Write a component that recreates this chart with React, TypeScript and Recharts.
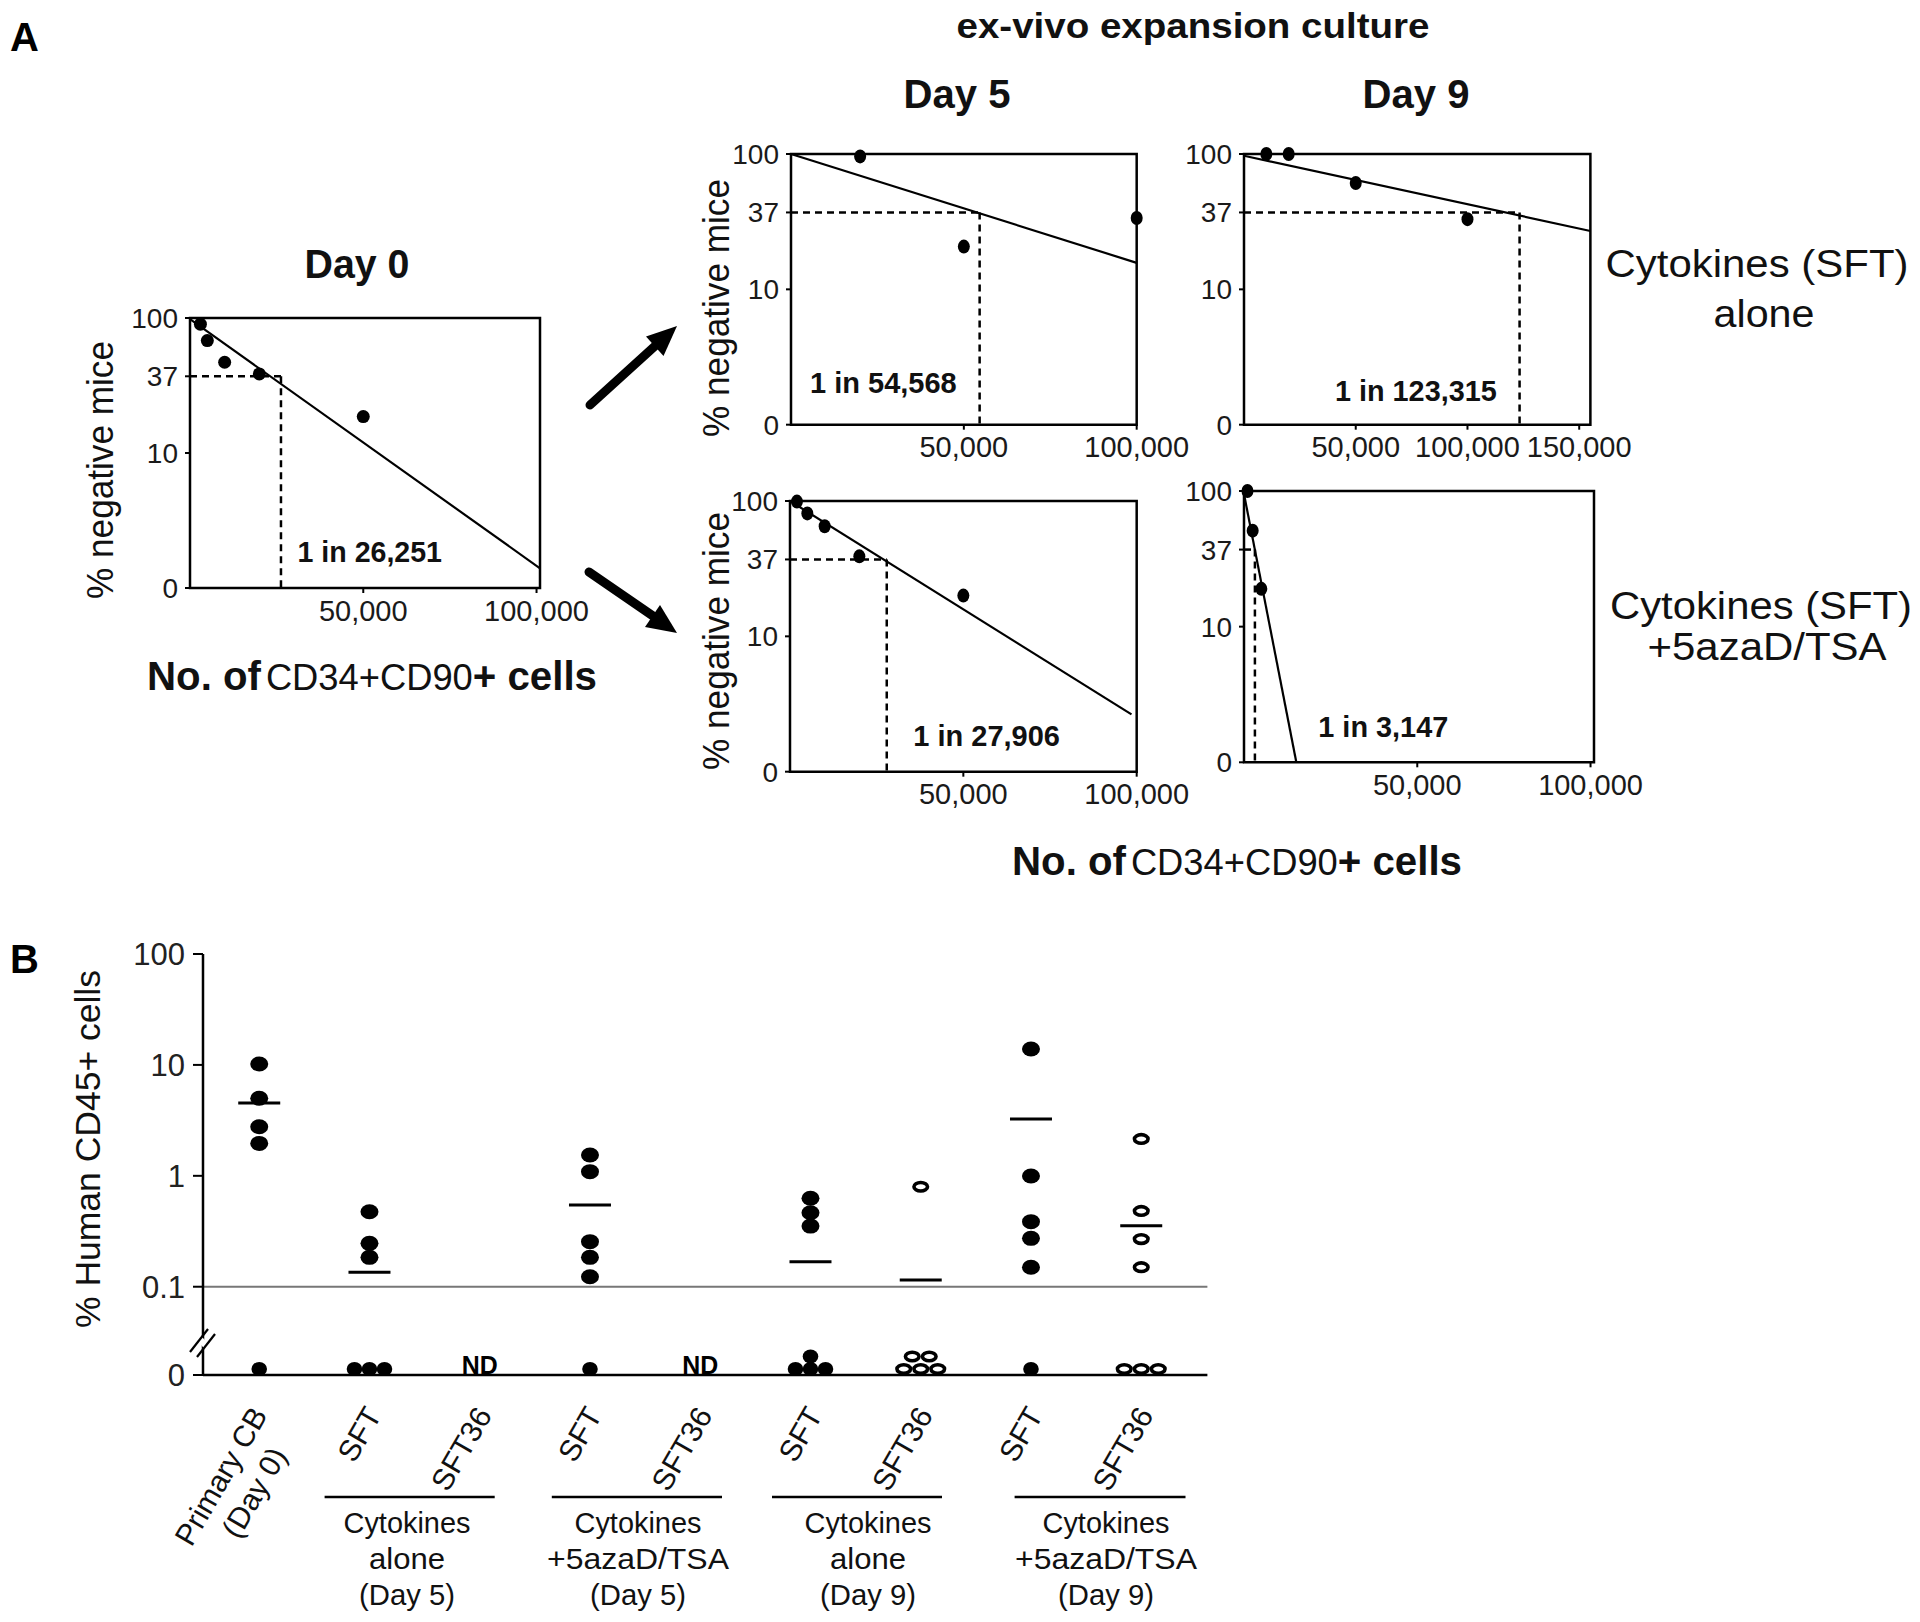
import React from 'react';
import { ComposedChart, Scatter, XAxis, YAxis, ReferenceLine, ReferenceArea } from 'recharts';

const FONT = '"Liberation Sans", Arial, Helvetica, sans-serif';

// ---------------- Panel A data ----------------
const yTicksA = [1, 10, 37, 100];

const day0CellsX = [3000, 5000, 10000, 20000, 50000];
const day0NegY = [90, 68, 47, 38.5, 18.6];
const day0FitX = [0, 101000];
const day0FitY = [98, 1.4];
const day0Freq = 26251;

const d5AloneX = [20000, 50000, 100000];
const d5AloneY = [96, 20.7, 33.7];
const d5AloneFitX = [0, 100000];
const d5AloneFitY = [100, 15.7];
const d5AloneFreq = 54568;

const d9AloneX = [10000, 20000, 50000, 100000];
const d9AloneY = [100, 100, 61, 33];
const d9AloneFitX = [0, 155000];
const d9AloneFitY = [97, 27];
const d9AloneFreq = 123315;

const d5AzaX = [2000, 5000, 10000, 20000, 50000];
const d5AzaY = [99, 81, 65, 39, 20];
const d5AzaFitX = [0, 98500];
const d5AzaFitY = [100, 2.65];
const d5AzaFreq = 27906;

const d9AzaX = [1000, 2500, 5000];
const d9AzaY = [100, 51, 19];
const d9AzaFitX = [0, 15100];
const d9AzaFitY = [95, 1];
const d9AzaFreq = 3147;

// ---------------- Panel B data ----------------
const ZERO_POS = 0.016; // where "0" sits on the broken log axis
const bYTicks = [ZERO_POS, 0.1, 1, 10, 100];
const bCatLabels: string[][] = [
  ['Primary CB', '(Day 0)'],
  ['SFT'], ['SFT36'], ['SFT'], ['SFT36'], ['SFT'], ['SFT36'], ['SFT'], ['SFT36'],
];
const bOpenMarker = [false, false, false, false, false, false, true, false, true];
const bValues: number[][] = [
  [10.2, 5.0, 2.77, 1.96],
  [0.474, 0.246, 0.184],
  [],
  [1.54, 1.09, 0.255, 0.184, 0.123],
  [],
  [0.627, 0.464, 0.352],
  [0.797],
  [13.9, 0.996, 0.386, 0.273, 0.15],
  [2.15, 0.482, 0.269, 0.15],
];
const bZeroCount = [1, 3, 0, 1, 0, 4, 5, 1, 3];
const bMeans: (number | null)[] = [4.53, 0.135, null, 0.545, null, 0.168, 0.115, 3.25, 0.355];
const bNotDone = [false, false, true, false, true, false, false, false, false];
const bGroups = [
  ['Cytokines', 'alone', '(Day 5)'],
  ['Cytokines', '+5azaD/TSA', '(Day 5)'],
  ['Cytokines', 'alone', '(Day 9)'],
  ['Cytokines', '+5azaD/TSA', '(Day 9)'],
];

// ---------------- layout ----------------
type Box = { l: number; r: number; t: number; b: number };
const YW = 80, XH = 60, MT = 20, MR = 70;
const BOX_D0: Box = { l: 190.4, r: 540.4, t: 318.3, b: 588.3 };
const BOX_D5S: Box = { l: 791, r: 1136.7, t: 154.3, b: 425 };
const BOX_D9S: Box = { l: 1244.3, r: 1590.7, t: 154.3, b: 425 };
const BOX_D5A: Box = { l: 790, r: 1136.7, t: 501, b: 771.7 };
const BOX_D9A: Box = { l: 1244.3, r: 1594.3, t: 491, b: 762.3 };
const BOX_B: Box = { l: 202.6, r: 1207, t: 954, b: 1375 };
const B_XDOMAIN: [number, number] = [-0.51, 8.6];

const fmtCells = (v: number) => v.toLocaleString('en-US');
const fmtNeg = (v: number) => (v === 1 ? '0' : String(v));
const fmtB = (v: number) => (v === ZERO_POS ? '0' : String(v));

const NoShape = () => <g />;
const ellipseDot = (rx: number, ry: number) => (p: any) =>
  <ellipse cx={p.cx} cy={p.cy} rx={rx} ry={ry} fill="#000" />;

type PanelProps = {
  box: Box; xMax: number; xTicks: number[]; xs: number[]; ys: number[];
  fitX: number[]; fitY: number[]; freq: number; rx: number; ry: number;
};

function LdaPanel({ box, xMax, xTicks, xs, ys, fitX, fitY, freq, rx, ry }: PanelProps) {
  const pts = xs.map((x, i) => ({ x, y: ys[i] }));
  const fit = fitX.map((x, i) => ({ x, y: fitY[i] }));
  const w = box.r - box.l + YW + MR;
  const h = box.b - box.t + MT + XH;
  return (
    <div style={{ position: 'absolute', left: box.l - YW, top: box.t - MT }}>
      <ComposedChart width={w} height={h} margin={{ top: MT, right: MR, bottom: 0, left: 0 }}>
        <XAxis type="number" dataKey="x" domain={[0, xMax]} ticks={xTicks} interval={0}
          tickFormatter={fmtCells} height={XH} axisLine={false}
          tickLine={{ stroke: '#000', strokeWidth: 2 }} tickSize={5} tickMargin={7}
          tick={{ fontSize: 29, fill: '#1a1a1a', fontFamily: FONT }} />
        <YAxis type="number" dataKey="y" scale="log" domain={[1, 100]} ticks={yTicksA} interval={0}
          tickFormatter={fmtNeg} width={YW} axisLine={false}
          tickLine={{ stroke: '#000', strokeWidth: 2 }} tickSize={5} tickMargin={7}
          tick={{ fontSize: 28, fill: '#1a1a1a', fontFamily: FONT }} />
        <ReferenceArea x1={0} x2={xMax} y1={1} y2={100} fill="none" fillOpacity={0} stroke="#000" strokeWidth={2.5} />
        <ReferenceLine segment={[{ x: 0, y: 37 }, { x: freq, y: 37 }]} stroke="#000" strokeWidth={2.5} strokeDasharray="7 5" />
        <ReferenceLine segment={[{ x: freq, y: 37 }, { x: freq, y: 1 }]} stroke="#000" strokeWidth={2.5} strokeDasharray="7 5" />
        <Scatter data={fit} line={{ stroke: '#000', strokeWidth: 2.2 }} shape={NoShape} isAnimationActive={false} />
        <Scatter data={pts} shape={ellipseDot(rx, ry)} isAnimationActive={false} />
      </ComposedChart>
    </div>
  );
}

// ---- Panel B shapes ----
const filledDot = (p: any) => <ellipse cx={p.cx} cy={p.cy} rx={9} ry={7.5} fill="#000" />;
const openDot = (p: any) => (
  <ellipse cx={p.cx} cy={p.cy} rx={6.8} ry={4.3} fill="#fff" stroke="#000" strokeWidth={3.6} />
);
const zeroShape = (p: any) => {
  const open = p.payload.open;
  const sp = open ? 17 : 15;
  const cx = p.cx + p.payload.slot * sp;
  const cy = p.cy - 6 - p.payload.row * 12.5;
  return open
    ? <ellipse cx={cx} cy={cy} rx={6.8} ry={4.3} fill="#fff" stroke="#000" strokeWidth={3.6} />
    : <ellipse cx={cx} cy={cy} rx={7.8} ry={7} fill="#000" />;
};
const meanShape = (p: any) => (
  <line x1={p.cx - 21} x2={p.cx + 21} y1={p.cy} y2={p.cy} stroke="#000" strokeWidth={3} />
);
const ndShape = (p: any) => (
  <text x={p.cx} y={p.cy - 1} textAnchor="middle" fontFamily={FONT} fontWeight="bold"
    fontSize={26} textLength={36} lengthAdjust="spacingAndGlyphs" fill="#000">ND</text>
);

const zeroLayout: Record<number, [number, number][]> = {
  1: [[0, 0]],
  3: [[-1, 0], [0, 0], [1, 0]],
  4: [[-1, 0], [0, 0], [1, 0], [0, 1]],
  5: [[-1, 0], [0, 0], [1, 0], [-0.5, 1], [0.5, 1]],
};

function BTick(props: any) {
  const { x, y, payload } = props;
  const lines = bCatLabels[payload.value];
  if (!lines) return null;
  const common = { fontSize: 30, fontFamily: FONT, fill: '#111' };
  if (lines.length === 1) {
    return (
      <text transform={`translate(${x + 13},${y + 40}) rotate(-60)`} textAnchor="end" {...common}>{lines[0]}</text>
    );
  }
  return (
    <g transform={`translate(${x + 9},${y + 40}) rotate(-60)`}>
      <text textAnchor="end" {...common}>{lines[0]}</text>
      <text x={-25} y={37} textAnchor="end" {...common}>{lines[1]}</text>
    </g>
  );
}

function PanelB() {
  const filled: any[] = [];
  const open: any[] = [];
  const zeros: any[] = [];
  const means: any[] = [];
  const nd: any[] = [];
  bValues.forEach((vals, i) => {
    vals.forEach((v) => (bOpenMarker[i] ? open : filled).push({ x: i, y: v }));
    const lay = zeroLayout[bZeroCount[i]] || [];
    lay.forEach(([slot, row]) => zeros.push({ x: i, y: ZERO_POS, slot, row, open: bOpenMarker[i] }));
    if (bMeans[i] != null) means.push({ x: i, y: bMeans[i] });
    if (bNotDone[i]) nd.push({ x: i, y: ZERO_POS });
  });
  const YWB = 110, MTB = 20, MRB = 30, XHB = 200;
  const w = BOX_B.r - BOX_B.l + YWB + MRB;
  const h = BOX_B.b - BOX_B.t + MTB + XHB;
  return (
    <div style={{ position: 'absolute', left: BOX_B.l - YWB, top: BOX_B.t - MTB }}>
      <ComposedChart width={w} height={h} margin={{ top: MTB, right: MRB, bottom: 0, left: 0 }}>
        <XAxis type="number" dataKey="x" domain={B_XDOMAIN} ticks={[0, 1, 2, 3, 4, 5, 6, 7, 8]} interval={0}
          height={XHB} tickLine={false} tickSize={0} tickMargin={0}
          axisLine={{ stroke: '#000', strokeWidth: 2.5 }} tick={(p: any) => <BTick {...p} />} />
        <YAxis type="number" dataKey="y" scale="log" domain={[ZERO_POS, 100]} ticks={bYTicks} interval={0}
          tickFormatter={fmtB} width={YWB} axisLine={{ stroke: '#000', strokeWidth: 2.5 }}
          tickLine={{ stroke: '#000', strokeWidth: 2 }} tickSize={10} tickMargin={8}
          tick={{ fontSize: 31, fill: '#222', fontFamily: FONT }} />
        <ReferenceLine y={0.1} stroke="#777" strokeWidth={2} />
        <Scatter data={filled} shape={filledDot} isAnimationActive={false} />
        <Scatter data={open} shape={openDot} isAnimationActive={false} />
        <Scatter data={zeros} shape={zeroShape} isAnimationActive={false} />
        <Scatter data={means} shape={meanShape} isAnimationActive={false} />
        <Scatter data={nd} shape={ndShape} isAnimationActive={false} />
      </ComposedChart>
    </div>
  );
}

// ---------------- overlay texts & decorations ----------------
const FREQ_LABELS = [
  { f: day0Freq, x: 297.5, y: 562, w: 144.5 },
  { f: d5AloneFreq, x: 810, y: 393, w: 146.7 },
  { f: d9AloneFreq, x: 1335, y: 401, w: 161.7 },
  { f: d5AzaFreq, x: 913.3, y: 746, w: 146.7 },
  { f: d9AzaFreq, x: 1318.3, y: 737, w: 130 },
];
const NEG_LABELS = [
  { cx: 100, cy: 470 },
  { cx: 716, cy: 308 },
  { cx: 716, cy: 641 },
];
const GROUP_CENTERS = [407, 638, 868, 1106];
const GROUP_LINES: [number, number][] = [[324.6, 494.7], [551.8, 722], [772, 942], [1014.6, 1185.5]];
const GROUP_BASELINES = [1533, 1569, 1605];
const widthOf: Record<string, number> = { 'Cytokines': 127, 'alone': 76, '(Day 5)': 96, '(Day 9)': 96, '+5azaD/TSA': 182 };

function CellsTitle({ x, y }: { x: number; y: number }) {
  return (
    <text x={x} y={y} textLength={450} lengthAdjust="spacingAndGlyphs" fill="#111">
      <tspan fontWeight="bold" fontSize={41}>No. of</tspan>
      <tspan fontSize={37} dx={5}>CD34+CD90</tspan>
      <tspan fontWeight="bold" fontSize={41}>+ cells</tspan>
    </text>
  );
}

function Overlay() {
  return (
    <svg width={1920} height={1622} style={{ position: 'absolute', left: 0, top: 0, pointerEvents: 'none' }}
      fontFamily={FONT}>
      <text x={10} y={51} fontSize={40} fontWeight="bold" fill="#000">A</text>
      <text x={10} y={973} fontSize={40} fontWeight="bold" fill="#000">B</text>
      <text x={1193} y={38} fontSize={35} fontWeight="bold" textAnchor="middle" textLength={473} lengthAdjust="spacingAndGlyphs" fill="#111">ex-vivo expansion culture</text>
      <text x={957} y={108} fontSize={40} fontWeight="bold" textAnchor="middle" textLength={107} lengthAdjust="spacingAndGlyphs" fill="#111">Day 5</text>
      <text x={1416} y={108} fontSize={40} fontWeight="bold" textAnchor="middle" textLength={107} lengthAdjust="spacingAndGlyphs" fill="#111">Day 9</text>
      <text x={357} y={278} fontSize={40} fontWeight="bold" textAnchor="middle" textLength={105} lengthAdjust="spacingAndGlyphs" fill="#111">Day 0</text>

      <text x={1757} y={277} fontSize={38} textAnchor="middle" textLength={303} lengthAdjust="spacingAndGlyphs" fill="#111">Cytokines (SFT)</text>
      <text x={1764} y={327} fontSize={38} textAnchor="middle" textLength={101} lengthAdjust="spacingAndGlyphs" fill="#111">alone</text>
      <text x={1761} y={619} fontSize={38} textAnchor="middle" textLength={302} lengthAdjust="spacingAndGlyphs" fill="#111">Cytokines (SFT)</text>
      <text x={1767} y={660} fontSize={38} textAnchor="middle" textLength={239} lengthAdjust="spacingAndGlyphs" fill="#111">+5azaD/TSA</text>

      <CellsTitle x={147} y={690} />
      <CellsTitle x={1012} y={875} />

      {NEG_LABELS.map((p, i) => (
        <text key={i} transform={`translate(${p.cx},${p.cy}) rotate(-90)`} textAnchor="middle" dominantBaseline="central"
          fontSize={36} textLength={258} lengthAdjust="spacingAndGlyphs" fill="#111">% negative mice</text>
      ))}
      {FREQ_LABELS.map((p, i) => (
        <text key={i} x={p.x} y={p.y} fontSize={29} fontWeight="bold" textLength={p.w} lengthAdjust="spacingAndGlyphs" fill="#111">
          {`1 in ${p.f.toLocaleString('en-US')}`}
        </text>
      ))}

      {/* arrows */}
      <line x1={590} y1={405} x2={655} y2={346} stroke="#000" strokeWidth={9} strokeLinecap="round" />
      <polygon points="677,326 663.5,356 646,336.5" fill="#000" />
      <line x1={589} y1={572} x2={653} y2={616} stroke="#000" strokeWidth={9} strokeLinecap="round" />
      <polygon points="677,633 645,627 660,605" fill="#000" />

      {/* panel B */}
      <text transform="translate(87,1149) rotate(-90)" textAnchor="middle" dominantBaseline="central"
        fontSize={35} textLength={358} lengthAdjust="spacingAndGlyphs" fill="#111">% Human CD45+ cells</text>
      <line x1={199} y1={1338} x2={206} y2={1346} stroke="#fff" strokeWidth={6} />
      <line x1={190} y1={1352} x2={208} y2={1329} stroke="#000" strokeWidth={2.2} />
      <line x1={197} y1={1357} x2={215} y2={1334} stroke="#000" strokeWidth={2.2} />
      {GROUP_LINES.map(([a, b], i) => (
        <line key={i} x1={a} x2={b} y1={1497} y2={1497} stroke="#000" strokeWidth={2.5} />
      ))}
      {bGroups.map((lines, gi) => lines.map((t, li) => (
        <text key={`${gi}-${li}`} x={GROUP_CENTERS[gi]} y={GROUP_BASELINES[li]} fontSize={29} textAnchor="middle"
          textLength={widthOf[t]} lengthAdjust="spacingAndGlyphs" fill="#111">{t}</text>
      )))}
    </svg>
  );
}

export default function App() {
  return (
    <div style={{ position: 'absolute', left: 0, top: 0, width: 1920, height: 1622, background: '#fff', overflow: 'hidden' }}>
      <LdaPanel box={BOX_D0} xMax={101000} xTicks={[50000, 100000]} xs={day0CellsX} ys={day0NegY}
        fitX={day0FitX} fitY={day0FitY} freq={day0Freq} rx={6.5} ry={6.5} />
      <LdaPanel box={BOX_D5S} xMax={100000} xTicks={[50000, 100000]} xs={d5AloneX} ys={d5AloneY}
        fitX={d5AloneFitX} fitY={d5AloneFitY} freq={d5AloneFreq} rx={6} ry={7} />
      <LdaPanel box={BOX_D9S} xMax={155000} xTicks={[50000, 100000, 150000]} xs={d9AloneX} ys={d9AloneY}
        fitX={d9AloneFitX} fitY={d9AloneFitY} freq={d9AloneFreq} rx={6} ry={7} />
      <LdaPanel box={BOX_D5A} xMax={100000} xTicks={[50000, 100000]} xs={d5AzaX} ys={d5AzaY}
        fitX={d5AzaFitX} fitY={d5AzaFitY} freq={d5AzaFreq} rx={6} ry={7} />
      <LdaPanel box={BOX_D9A} xMax={101000} xTicks={[50000, 100000]} xs={d9AzaX} ys={d9AzaY}
        fitX={d9AzaFitX} fitY={d9AzaFitY} freq={d9AzaFreq} rx={6} ry={7} />
      <PanelB />
      <Overlay />
    </div>
  );
}
